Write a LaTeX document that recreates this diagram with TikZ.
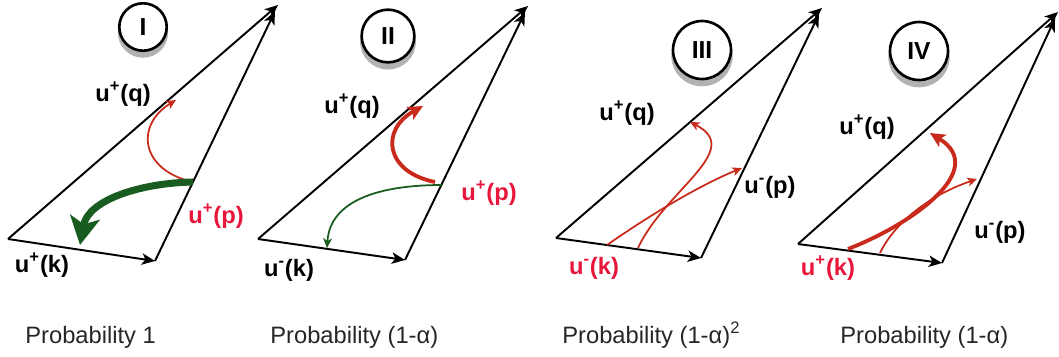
\documentclass[tikz,border=0pt]{standalone}
\usepackage{fontspec}
\setmainfont{Liberation Sans}
\usetikzlibrary{arrows.meta,shadows}
\definecolor{arrred}{RGB}{200,42,28}
\definecolor{labred}{RGB}{232,22,58}
\definecolor{arrgreen}{RGB}{24,92,32}

\begin{document}
\begin{tikzpicture}[x=0.02cm, y=-0.02cm,
  vec/.style={-{Stealth[length=7.5pt,width=6.5pt,inset=2pt]}, line width=1.1pt},
  paththin/.style={-{Stealth[length=5.5pt,width=5pt,inset=1.5pt]}, line width=1pt},
  paththick/.style={-{Stealth[length=8.5pt,width=8pt,inset=2pt]}, line width=2.2pt},
  lab/.style={font=\fontsize{13.5}{16}\selectfont\bfseries, inner sep=0pt},
  numc/.style={circle, draw, line width=1.5pt, fill=white, minimum size=31pt, inner sep=0pt,
    font=\fontsize{14}{16}\selectfont\bfseries,
    drop shadow={shadow xshift=0pt, shadow yshift=-3pt, shadow scale=1.06, fill=black!60, opacity=0.5}},
  prob/.style={font=\fontsize{13.5}{16}\selectfont, anchor=base west, inner sep=0pt, black!85}]
  \useasboundingbox (0,0) rectangle (1059,356);

  % panel I
  \coordinate (oI) at (8,239);
  \coordinate (kI) at (155,261);
  \coordinate (qI) at (278,5);
  \draw[vec] (oI) -- (kI);
  \draw[vec] (oI) -- (qI);
  \draw[vec, shorten >=4pt] (kI) -- (qI);
  \coordinate (sI) at (193,182);
  \coordinate (tI) at (176,100);
  \coordinate (gI) at (80,245);
  \draw[paththin, arrred] (sI) .. controls (140,170) and (135,125) .. (tI);
  \draw[arrgreen, line width=4pt, -{Stealth[length=16pt,width=17pt,inset=4pt]}]
    (sI) .. controls (140,183) and (88,200) .. (gI);
  \node[numc, minimum size=27pt] (cI) at (143,27) {I};
  \node[lab] (uqI) at (123,94) {u\textsuperscript{+}(q)};
  \node[lab, labred] (upI) at (216,216) {u\textsuperscript{+}(p)};
  \node[lab] (ukI) at (42,265) {u\textsuperscript{+}(k)};

  % panel II
  \coordinate (oII) at (258,239);
  \coordinate (kII) at (405,260);
  \coordinate (qII) at (528,6);
  \draw[vec] (oII) -- (kII);
  \draw[vec] (oII) -- (qII);
  \draw[vec, shorten >=4pt] (kII) -- (qII);
  \coordinate (sII) at (435,182);
  \coordinate (tII) at (423,106);
  \coordinate (gsII) at (442,185);
  \coordinate (gII) at (327,248);
  \draw[paththick, arrred] (sII) .. controls (385,172) and (380,130) .. (tII);
  \draw[paththin, arrgreen] (gsII) .. controls (380,185) and (330,200) .. (gII);
  \node[numc, minimum size=30pt] (cII) at (388,36) {II};
  \node[lab] (uqII) at (352,106) {u\textsuperscript{+}(q)};
  \node[lab, labred] (upII) at (489,193) {u\textsuperscript{+}(p)};
  \node[lab] (ukII) at (289,270) {u\textsuperscript{-}(k)};

  % panel III
  \coordinate (oIII) at (556,238);
  \coordinate (kIII) at (701,258);
  \coordinate (qIII) at (822,8);
  \draw[vec] (oIII) -- (kIII);
  \draw[vec] (oIII) -- (qIII);
  \draw[vec, shorten >=4pt] (kIII) -- (qIII);
  \coordinate (saIII) at (607,245);
  \coordinate (taIII) at (742,168);
  \coordinate (sbIII) at (638,248);
  \coordinate (tbIII) at (690,122);
  \draw[paththin, arrred] (saIII) .. controls (650,215) and (700,185) .. (taIII);
  \draw[paththin, arrred] (sbIII) .. controls (665,190) and (745,150) .. (tbIII);
  \node[numc, minimum size=33pt] (cIII) at (702,50) {III};
  \node[lab] (uqIII) at (627,113) {u\textsuperscript{+}(q)};
  \node[lab] (upIII) at (770,187) {u\textsuperscript{-}(p)};
  \node[lab, labred] (ukIII) at (594,268) {u\textsuperscript{-}(k)};

  % panel IV
  \coordinate (oIV) at (798,244);
  \coordinate (kIV) at (942,263);
  \coordinate (qIV) at (1058,12);
  \draw[vec] (oIV) -- (kIV);
  \draw[vec] (oIV) -- (qIV);
  \draw[vec, shorten >=4pt] (kIV) -- (qIV);
  \coordinate (saIV) at (848,249);
  \coordinate (taIV) at (930,133);
  \coordinate (sbIV) at (880,253);
  \coordinate (tbIV) at (977,179);
  \draw[paththick, arrred] (saIV) .. controls (910,225) and (990,170) .. (taIV);
  \draw[paththin, arrred] (sbIV) .. controls (895,222) and (930,195) .. (tbIV);
  \node[numc, minimum size=33pt] (cIV) at (919,51) {IV};
  \node[lab] (uqIV) at (867,127) {u\textsuperscript{+}(q)};
  \node[lab] (upIV) at (1000,232) {u\textsuperscript{-}(p)};
  \node[lab, labred] (ukIV) at (828,268) {u\textsuperscript{+}(k)};

  % probabilities
  \node[prob] (prI) at (25,343) {Probability 1};
  \node[prob] (prII) at (270,343) {Probability (1-α)};
  \node[prob] (prIII) at (562,343) {Probability (1-α)\textsuperscript{2}};
  \node[prob] (prIV) at (840,343) {Probability (1-α)};
\end{tikzpicture}
\end{document}
